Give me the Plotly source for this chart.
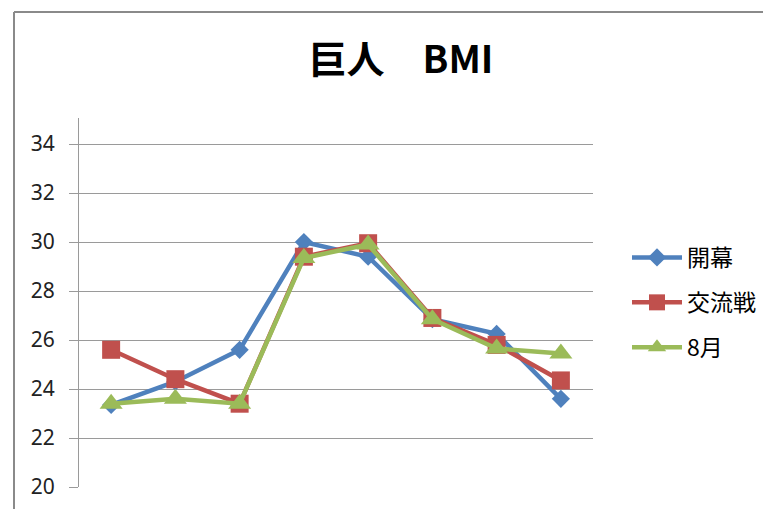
import plotly.graph_objects as go

categories = ["1", "2", "3", "4", "5", "6", "7", "8"]
kaimaku = [23.35, 24.3, 25.6, 30.0, 29.4, 26.85, 26.25, 23.6]
koryusen = [25.6, 24.4, 23.4, 29.4, 29.95, 26.9, 25.8, 24.35]
hachigatsu = [23.4, 23.6, 23.4, 29.35, 29.9, 26.85, 25.65, 25.45]
series_names = ["開幕", "交流戦", "8月"]
y_ticks = [20, 22, 24, 26, 28, 30, 32, 34]

W, H = 771, 509
OFF = 8  # page body offset
L, R, T, B = 79 - OFF, 593 - OFF, 118 - OFF, 487 - OFF
pw, ph = R - L, B - T

colors = ["#4F81BD", "#C0504D", "#9BBB59"]
symbols = ["diamond", "square", "triangle-up"]
sizes = [14, 18, 20]

fig = go.Figure()
for i, (name, vals) in enumerate(zip(series_names, [kaimaku, koryusen, hachigatsu])):
    fig.add_trace(go.Scatter(
        x=categories, y=vals, name=name, mode="lines+markers",
        line=dict(color=colors[i], width=4.5),
        marker=dict(symbol=symbols[i], size=sizes[i], color=colors[i]),
        legendgroup=name,
    ))

ymax = 20 + (486.7 - 118) / 24.48


def px_x(p):
    return (p - OFF - L) / pw


def px_y(p):
    return (B - (p - OFF)) / ph


fig.update_layout(
    width=W, height=H,
    margin=dict(l=L, r=W - R, t=T, b=H - B),
    paper_bgcolor="white", plot_bgcolor="white",
    title=dict(text="<b>巨人\u3000BMI</b>", x=(401 - OFF) / W, xanchor="center",
               y=1 - (60 - OFF) / H, yanchor="middle", yref="container",
               font=dict(family="Noto Sans CJK JP", size=38, color="black")),
    font=dict(family="Noto Sans CJK JP", color="#222"),
    showlegend=True,
    legend=dict(x=px_x(627), y=px_y(236), xanchor="left", yanchor="top",
                traceorder="grouped", tracegroupgap=12, itemwidth=50,
                font=dict(family="Noto Sans CJK JP", size=23, color="black"),
                bgcolor="rgba(0,0,0,0)"),
    xaxis=dict(type="category", range=[-0.5, 7.5], showticklabels=False,
               showgrid=False, zeroline=False, showline=False, ticks=""),
    yaxis=dict(range=[20, ymax], tickvals=y_ticks, showgrid=True,
               gridcolor="#9a9a9a", gridwidth=1, zeroline=False,
               showline=True, linecolor="#9a9a9a", linewidth=1,
               ticks="outside", ticklen=9, tickcolor="#9a9a9a",
               ticklabelstandoff=10,
               tickfont=dict(family="Noto Sans", size=21, color="#222")),
    shapes=[
        dict(type="line", xref="paper", yref="paper",
             x0=px_x(14), x1=px_x(14), y0=px_y(12), y1=px_y(H + 20),
             line=dict(color="#8a8a8a", width=2)),
        dict(type="line", xref="paper", yref="paper",
             x0=px_x(14), x1=px_x(W + 20), y0=px_y(12), y1=px_y(12),
             line=dict(color="#8a8a8a", width=2)),
    ],
)

fig.write_html("out.html")
